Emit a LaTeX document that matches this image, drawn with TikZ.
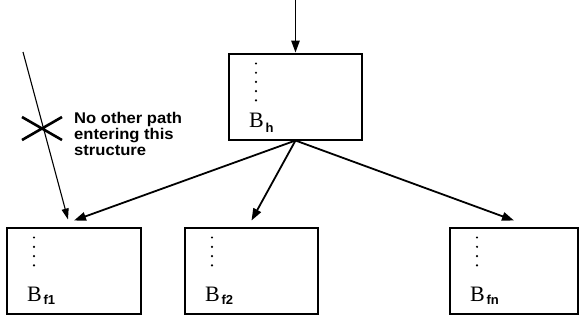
\documentclass[tikz,border=0pt]{standalone}
\usepackage{fontspec}
\setmainfont{Liberation Serif}
\newfontfamily\notefont{Liberation Sans}
\newfontfamily\widefont[FakeStretch=1.07]{Liberation Sans}
\usetikzlibrary{arrows.meta, positioning, calc}
% block name: big serif B with a small sans subscript
\newcommand{\blab}[2][-3pt]{{\fontsize{22}{22}\selectfont B}\,\raisebox{#1}{\notefont\bfseries\fontsize{13}{13}\selectfont #2}}
\tikzset{
  blk/.style={draw, line width=2pt, minimum height=86pt, inner sep=0pt},
  lab/.style={anchor=base west, inner sep=0pt},
  arr/.style={-{Triangle[length=12pt,width=8.5pt]}, line width=1.8pt},
  thin arr/.style={-{Triangle[length=11pt,width=7pt]}, line width=1.1pt},
  note/.style={align=left, inner sep=0pt, font=\widefont\bfseries\fontsize{15.5}{16}\selectfont},
}

\begin{document}
\begin{tikzpicture}[x=1pt, y=-1pt]
\useasboundingbox (0,0) rectangle (580,333);

% head block and its successors
\node[blk, minimum width=133pt] (bh)  at (295.5,96.5)  {};
\node[blk, minimum width=134pt] (bf1) at (74,270.5)   {};
\node[blk, minimum width=133pt] (bf2) at (251.5,270.5) {};
\node[blk, minimum width=128pt] (bfn) at (514,270.5)  {};

\node[lab] (bh-lab)  at ([xshift=21pt,yshift=13pt]bh.south west)  {\blab[-5pt]{h}};
\node[lab] (bf1-lab) at ([xshift=21pt,yshift=13pt]bf1.south west) {\blab{f1}};
\node[lab] (bf2-lab) at ([xshift=21pt,yshift=13pt]bf2.south west) {\blab{f2}};
\node[lab] (bfn-lab) at ([xshift=21pt,yshift=13pt]bfn.south west) {\blab{fn}};

% vertical dots inside each block
\foreach \i in {0,...,4}
  \fill ([xshift=28pt,yshift=-11pt-9.2pt*\i]bh.north west) circle (1.2pt);
\foreach \b in {bf1, bf2, bfn}
  \foreach \i in {0,...,3}
    \fill ([xshift=28pt,yshift=-11pt-9.3pt*\i]\b.north west) circle (1.2pt);

\coordinate (top) at (295.5,0);
\coordinate (entry) at (23,52);

\draw[arr, line width=1.4pt] (top) -- (bh.north);
\foreach \b in {bf1, bf2, bfn}
  \draw[arr] (bh.south) -- ([yshift=6pt]\b.north);

% the forbidden side entry into the structure
\draw[thin arr] (entry) -- ([xshift=-6pt,yshift=7pt]bf1.north);
\draw[line width=2.6pt] (22,117) -- (62,140) (22,140) -- (62,117);
\node[note, anchor=north west] (note) at (74,112)
  {No other path\\entering this\\structure};

\end{tikzpicture}
\end{document}
